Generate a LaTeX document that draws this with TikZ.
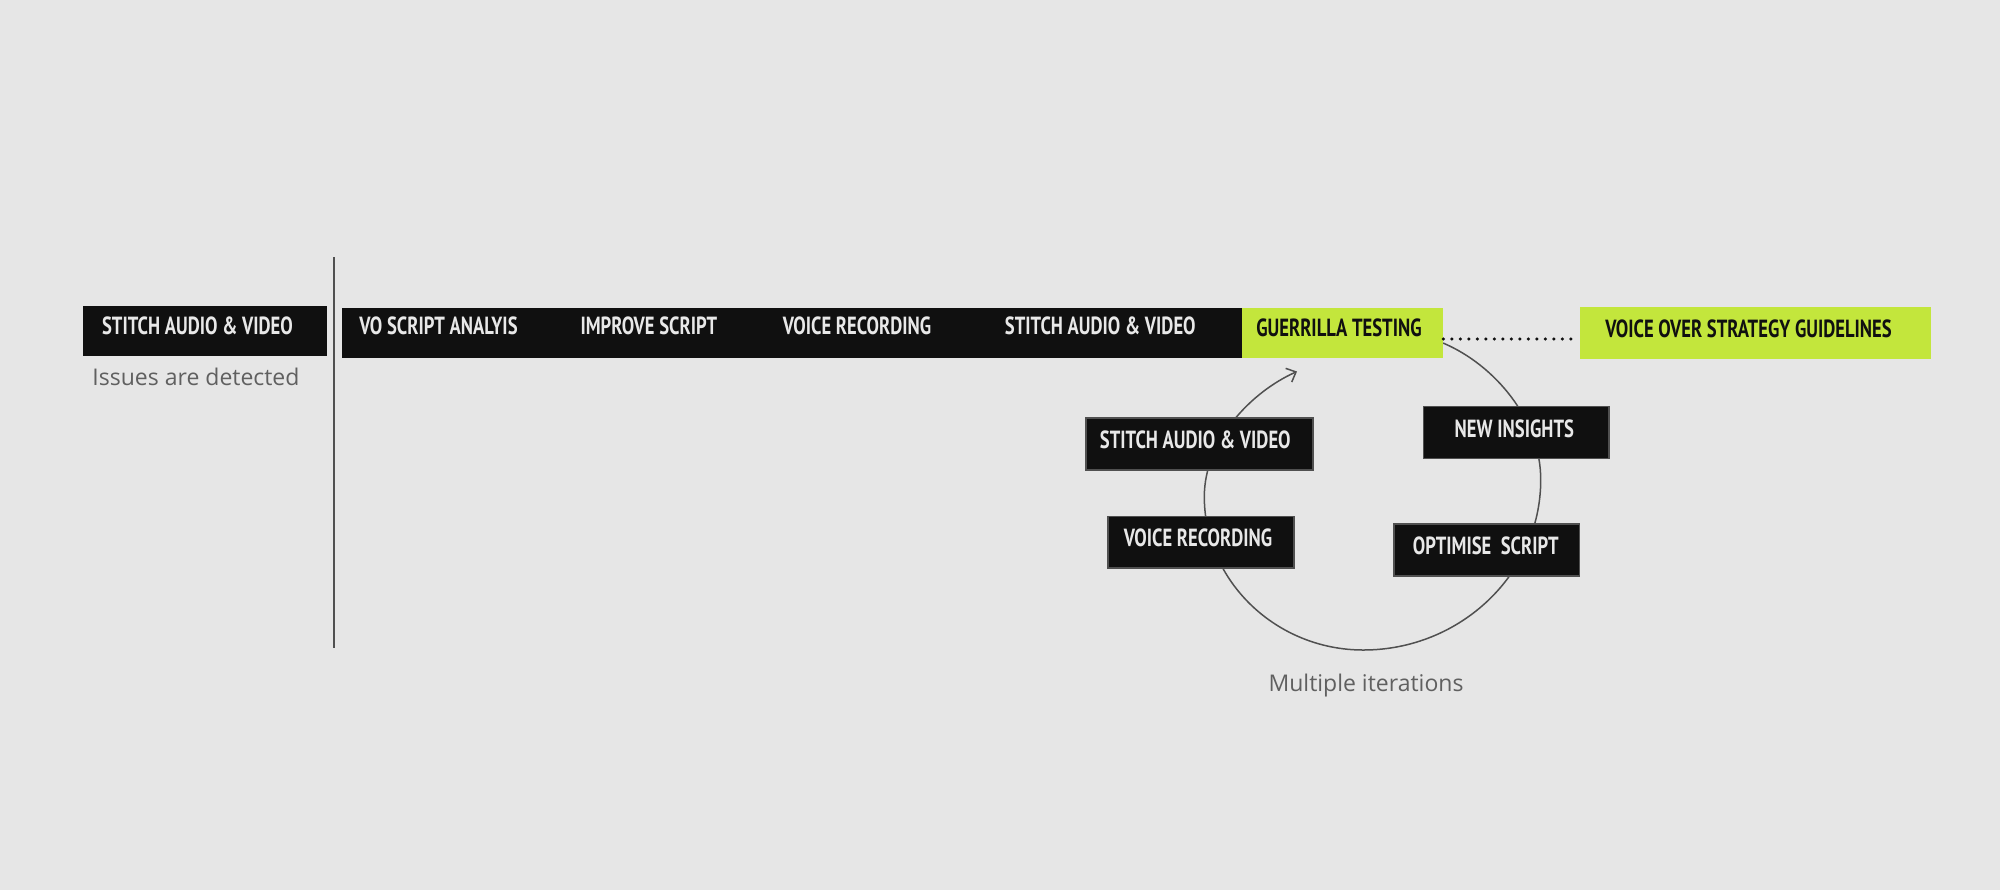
\documentclass[tikz,border=0pt]{standalone}
\usepackage{fontspec}
\usetikzlibrary{arrows.meta}
\newfontfamily\capfont[FakeStretch=0.75]{PT Sans}
\newfontfamily\notefont{Open Sans}
\definecolor{bgc}{HTML}{E6E6E6}
\definecolor{blk}{HTML}{101010}
\definecolor{lime}{HTML}{C3E63C}
\definecolor{capc}{HTML}{E8E8E8}
\definecolor{linec}{HTML}{505050}
\definecolor{notec}{HTML}{606060}
\tikzset{
  blackbox/.style={rectangle, fill=blk, draw=none, inner sep=0pt},
  limebox/.style={rectangle, fill=lime, draw=none, inner sep=0pt},
  loopbox/.style={rectangle, fill=blk, draw=linec, line width=0.6pt, inner sep=0pt},
  captext/.style={anchor=base, inner sep=0pt, text=capc, font=\capfont\bfseries\fontsize{12.4}{14}\selectfont},
  darkcap/.style={captext, text=blk},
  notetext/.style={anchor=base, inner sep=0pt, text=notec, font=\notefont\fontsize{11.5}{13}\selectfont},
  loopline/.style={draw=linec, line width=0.75pt},
}
\begin{document}
\begin{tikzpicture}[x=0.5pt,y=-0.5pt]
\fill[bgc] (0,0) rectangle (2000,890);
\useasboundingbox (0,0) rectangle (2000,890);

% divider
\draw[linec, line width=1pt] (333.5,257) -- (333.5,648);

% loop curve
\coordinate (lstart) at (1443,343);
\coordinate (lend) at (1297,371.5);
\draw[loopline, -{Straight Barb[length=4pt,width=7.5pt]}]
  (lstart) .. controls (1495,365) and (1541,420) .. (1540.7,480)
  .. controls (1540.7,573.5) and (1460.7,650) .. (1363.3,650)
  .. controls (1275.8,650) and (1204.3,580.9) .. (1204.3,496.7)
  .. controls (1204.3,440) and (1252,391.5) .. (lend);

% left box
\node[blackbox, minimum width=122pt, minimum height=25pt] (lbox) at (205,331) {};
\node[captext] (ltext) at (197.5,334) {STITCH AUDIO \& VIDEO};
\node[notetext] (issues) at (196,385) {Issues are detected};

% main bar
\node[blackbox, minimum width=450.25pt, minimum height=25pt] (bar) at (791.75,333) {};
\node[captext] (t1) at (438.5,334) {VO SCRIPT ANALYIS};
\node[captext] (t2) at (648.8,334) {IMPROVE SCRIPT};
\node[captext] (t3) at (857,334) {VOICE RECORDING};
\node[captext] (t4) at (1100.3,334.3) {STITCH AUDIO \& VIDEO};
\node[limebox, minimum width=100.5pt, minimum height=25pt] (gt) at (1342.5,333) {};
\node[darkcap] (gttext) at (1339,336.7) {GUERRILLA TESTING};

% guidelines
\node[limebox, minimum width=175.5pt, minimum height=26pt] (vo) at (1755,333) {};
\node[darkcap] (votext) at (1748.5,337.3) {VOICE OVER STRATEGY GUIDELINES};
\draw[blk, line width=1.7pt, line cap=round, dash pattern=on 0pt off 4.25pt]
  ([yshift=-3pt]gt.east) -- ([yshift=-3pt]vo.west);

% loop boxes
\node[loopbox, minimum width=113.5pt, minimum height=26pt] (ls) at (1199.5,444) {};
\node[captext] (lstext) at (1195.3,448.3) {STITCH AUDIO \& VIDEO};
\node[loopbox, minimum width=92.85pt, minimum height=25.8pt] (ni) at (1516.2,432.5) {};
\node[captext] (nitext) at (1514.3,437.3) {NEW INSIGHTS};
\node[loopbox, minimum width=93pt, minimum height=25.65pt] (vr) at (1201,542.3) {};
\node[captext] (vrtext) at (1198,546) {VOICE RECORDING};
\node[loopbox, minimum width=92.75pt, minimum height=26pt] (os) at (1486.75,550) {};
\node[captext] (ostext) at (1485.7,554) {OPTIMISE\ \ SCRIPT};

\node[notetext] (iter) at (1366,691.7) {Multiple iterations};
\end{tikzpicture}
\end{document}
